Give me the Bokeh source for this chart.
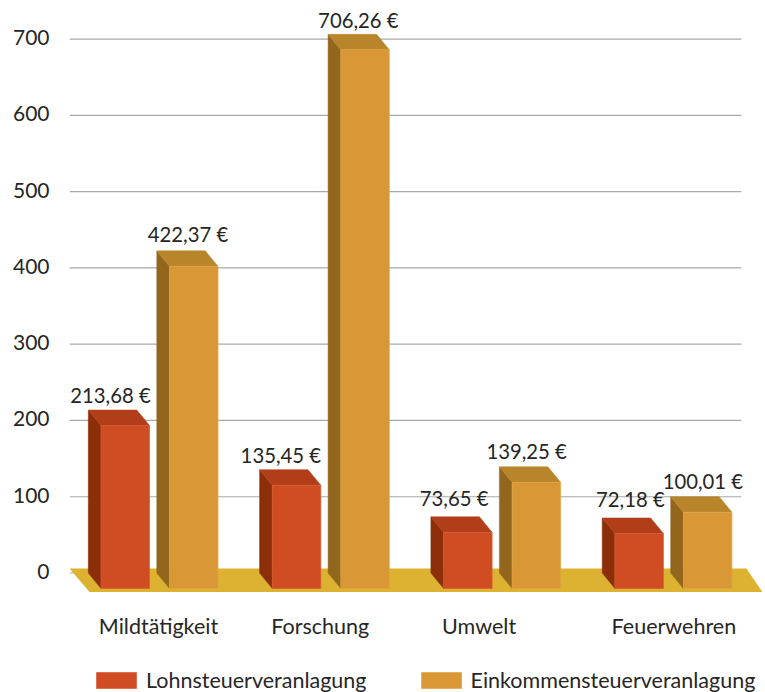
from bokeh.plotting import figure
from bokeh.models import Range1d, FixedTicker, Legend, LegendItem, ColumnDataSource, LinearAxis
from bokeh.core.properties import value
from bokeh.embed import file_html
from bokeh.resources import INLINE

categories = ["Mildtätigkeit", "Forschung", "Umwelt", "Feuerwehren"]
lohnsteuer = [213.68, 135.45, 73.65, 72.18]
einkommensteuer = [422.37, 706.26, 139.25, 100.01]
series_names = ["Lohnsteuerveranlagung", "Einkommensteuerveranlagung"]
y_ticks = [0, 100, 200, 300, 400, 500, 600, 700]

W, H = 765, 692
LEFT = 69
FONT = "Lato"
TXT = "#262626"
PX_X = 171.3      # pixels per category
PX_Y = 0.7627     # pixels per euro
ZERO_PX = 572.5   # pixel row of value 0
C0_PX = 159       # pixel column of the first category
DX, DY = 12.7 / PX_X, 15.5 / PX_Y
BW = 48.5 / PX_X


def xp(px):
    return px / PX_X


def yp(px):
    return px / PX_Y


y0, y1 = -(H - ZERO_PX) / PX_Y, ZERO_PX / PX_Y
p = figure(width=W, height=H, output_backend="svg", toolbar_location=None,
           x_range=Range1d((LEFT - C0_PX) / PX_X, (W - C0_PX) / PX_X),
           y_range=Range1d(y0, y1),
           min_border_left=LEFT, min_border_right=0, min_border_top=0, min_border_bottom=0,
           x_axis_location=None, y_axis_location=None, outline_line_color=None,
           background_fill_color=None, border_fill_color="white")
p.xgrid.visible = False
p.ygrid.visible = False

# the tick labels sit a little above their grid lines
p.extra_y_ranges = {"labels": Range1d(y0 - yp(1.5), y1 - yp(1.5))}
ax = LinearAxis(y_range_name="labels")
ax.ticker = FixedTicker(ticks=y_ticks)
ax.axis_line_color = None
ax.major_tick_line_color = None
ax.minor_tick_line_color = None
ax.major_tick_out = 0
ax.major_label_standoff = 20
ax.major_label_text_font = FONT
ax.major_label_text_font_size = "21px"
ax.major_label_text_color = TXT
p.add_layout(ax, "left")

# grid lines, on the back wall
x_first, x_last = (LEFT - C0_PX) / PX_X, len(categories) - 1 + xp(68)
p.segment(x0=[x_first] * len(y_ticks), x1=[x_last] * len(y_ticks), y0=y_ticks, y1=y_ticks,
          line_color="#a9a9a9", line_width=1.2)

# floor
f_back = yp(4.5)
f_front = -yp(19)
p.patch([x_first, x_last + xp(5), x_last + xp(21), x_first + xp(20)],
        [f_back, f_back, f_front, f_front], fill_color="#dcb230", line_color=None)

offsets = [-58.5, 10.0]
styles = [("#d04c22", "#8c2e08", "#b13e18"), ("#d99835", "#92671d", "#b8852b")]
edges = ["#d65c36", "#e0a347"]
legend_items = []
for vals, off, (front, side, top), edge, name in zip(
        [lohnsteuer, einkommensteuer], offsets, styles, edges, series_names):
    sx, sy, tx, ty, fx, fy = [], [], [], [], [], []
    for i, v in enumerate(vals):
        x = i + xp(off)
        sx.append([x - DX, x, x, x - DX])
        sy.append([v, v - DY, -DY, 0])
        tx.append([x - DX, x + BW - DX, x + BW, x])
        ty.append([v, v, v - DY, v - DY])
        fx.append([x, x + BW, x + BW, x])
        fy.append([v - DY, v - DY, -DY, -DY])
    p.patches(sx, sy, fill_color=side, line_color=side, line_width=0.5)
    p.patches(tx, ty, fill_color=top, line_color=top, line_width=0.5)
    r = p.patches(fx, fy, fill_color=front, line_color=edge, line_width=0.7)
    legend_items.append(LegendItem(label=name, renderers=[r]))

# value labels
pairs = [(i, v, o) for i, (a, b) in enumerate(zip(lohnsteuer, einkommensteuer))
         for v, o in ((a, offsets[0]), (b, offsets[1]))]
label_dx = [-2, 7, -3, 6, -1, 3, 4, 8]
label_dy = [15, 17, 15, 14, 19, 16, 19, 16]
src = dict(x=[i + xp(o) for i, v, o in pairs], y=[v for i, v, o in pairs],
           t=[f"{v:.2f} €".replace(".", ",") for i, v, o in pairs],
           xo=[11.5 + d for d in label_dx], yo=[-d for d in label_dy])
p.text("x", "y", text="t", x_offset="xo", y_offset="yo", source=ColumnDataSource(src),
       text_font=value(FONT), text_font_size="20.3px", text_color=TXT,
       text_align="center", text_baseline="middle")

# category labels
cat_dx = [-1, -10.5, -23, 0.5]
p.text(list(range(len(categories))), [-yp(53)] * len(categories), text=categories,
       x_offset=cat_dx, text_font=value(FONT), text_font_size="21.5px", text_color=TXT,
       text_align="center", text_baseline="middle")

legend = Legend(items=legend_items, orientation="horizontal", location=(22, -1),
                glyph_width=50, glyph_height=20, label_standoff=5, spacing=49,
                padding=0, margin=0, border_line_color=None, background_fill_alpha=0,
                label_text_font=FONT, label_text_font_size="21.5px", label_text_color=TXT)
p.add_layout(legend, "center")

open("out.html", "w").write(file_html(p, INLINE))
